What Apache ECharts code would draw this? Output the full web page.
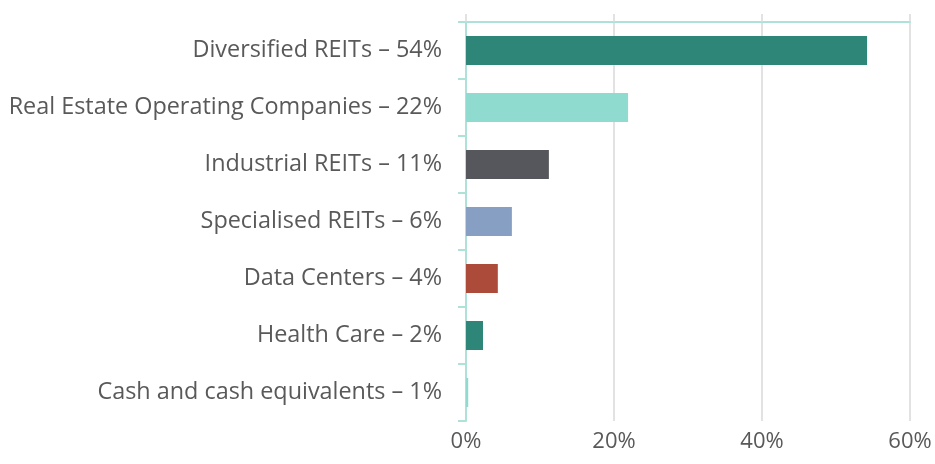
<!DOCTYPE html>
<html>
<head>
<meta charset="utf-8">
<script src="https://cdn.jsdelivr.net/npm/echarts@6/dist/echarts.min.js"></script>
<style>
  html, body { margin: 0; padding: 0; background: #fff; }
  #chart { width: 935px; height: 464px; }
</style>
</head>
<body>
<div id="chart"></div>
<script>
// --- data ---
const categories = [
  'Diversified REITs – 54%',
  'Real Estate Operating Companies – 22%',
  'Industrial REITs – 11%',
  'Specialised REITs – 6%',
  'Data Centers – 4%',
  'Health Care – 2%',
  'Cash and cash equivalents – 1%',
];
const weights = [0.542, 0.219, 0.112, 0.062, 0.043, 0.023, 0.003];
const barColors = ['#2e8679', '#8fdbcf', '#55575c', '#879fc3', '#ad4b3b', '#2e8679', '#8fdbcf'];
const xTicks = [0, 0.2, 0.4, 0.6];

const AXIS_TEAL = '#aee2d8';
const GRID_GREY = '#d9d9d9';
const TEXT = '#595959';
const FONT = '"Open Sans", sans-serif';

const chart = echarts.init(document.getElementById('chart'));

const option = {
  animation: false,
  grid: { left: 466, right: 25, top: 22, bottom: 43, containLabel: false },
  xAxis: [
    {
      type: 'value',
      position: 'bottom',
      min: xTicks[0],
      max: xTicks[xTicks.length - 1],
      interval: 0.2,
      axisLine: { show: false },
      axisTick: { show: false },
      splitLine: { show: true, lineStyle: { color: GRID_GREY, width: 1.5 } },
      axisLabel: {
        color: TEXT,
        fontFamily: FONT,
        fontSize: 22,
        margin: 10,
        formatter: (v) => Math.round(v * 100) + '%',
      },
    },
    {
      // thin teal line across the top with small ticks upward
      type: 'value',
      position: 'top',
      min: xTicks[0],
      max: xTicks[xTicks.length - 1],
      interval: 0.2,
      axisLine: { show: true, lineStyle: { color: AXIS_TEAL, width: 2 } },
      axisTick: { show: true, length: 8, lineStyle: { color: GRID_GREY, width: 1.5 } },
      axisLabel: { show: false },
      splitLine: { show: false },
    },
  ],
  yAxis: {
    type: 'category',
    inverse: true,
    data: categories,
    axisLine: { show: true, lineStyle: { color: AXIS_TEAL, width: 2 } },
    axisTick: { show: true, length: 8, lineStyle: { color: AXIS_TEAL, width: 2 } },
    axisLabel: { color: TEXT, fontFamily: FONT, fontSize: 23.4, margin: 24 },
  },
  series: [
    {
      type: 'bar',
      barWidth: 29,
      data: weights.map((v, i) => ({ value: v, itemStyle: { color: barColors[i] } })),
    },
  ],
};

chart.setOption(option);
</script>
</body>
</html>
